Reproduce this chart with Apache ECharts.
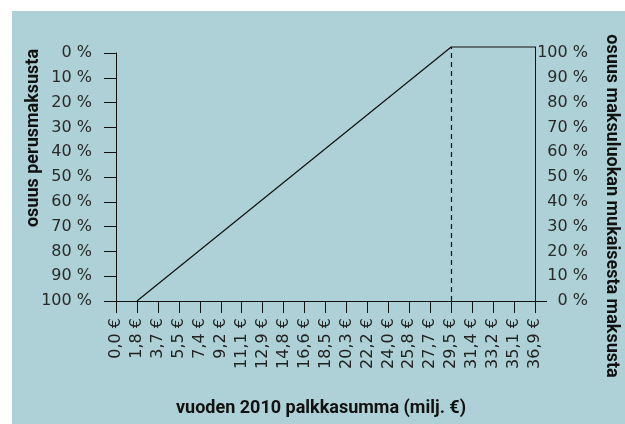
<!DOCTYPE html>
<html>
<head>
<meta charset="utf-8">
<script src="https://cdn.jsdelivr.net/npm/echarts@6/dist/echarts.min.js"></script>
<style>
  html, body { margin: 0; padding: 0; background: #fff; }
  #chart { width: 625px; height: 424px; }
</style>
</head>
<body>
<div id="chart"></div>
<script>
// palkkasumma, milj. €
const categories = ['0,0 €', '1,8 €', '3,7 €', '5,5 €', '7,4 €', '9,2 €', '11,1 €', '12,9 €',
  '14,8 €', '16,6 €', '18,5 €', '20,3 €', '22,2 €', '24,0 €', '25,8 €', '27,7 €',
  '29,5 €', '31,4 €', '33,2 €', '35,1 €', '36,9 €'];
// osuus maksuluokan mukaisesta maksusta (%)
const shareX = ['1,8 €', '29,5 €', '36,9 €'];
const shareY = [0, 102.4, 102.4];
const limitX = '29,5 €';
const percentTicks = [0, 10, 20, 30, 40, 50, 60, 70, 80, 90, 100];

const labelFont = "'DejaVu Sans', sans-serif";
const titleFont = "bold 18px Roboto, 'Liberation Sans', sans-serif";

const chart = echarts.init(document.getElementById('chart'));

const option = {
  backgroundColor: '#ffffff',
  animation: false,
  graphic: [
    { type: 'rect', z: -100, shape: { x: 12, y: 11, width: 613, height: 413 }, style: { fill: '#add1d6' } },
    {
      type: 'text', x: 33, y: 138, rotation: Math.PI / 2,
      style: { text: 'osuus perusmaksusta', font: titleFont, fill: '#111', align: 'center', verticalAlign: 'middle' }
    },
    {
      type: 'text', x: 611, y: 206, rotation: -Math.PI / 2,
      style: { text: 'osuus maksuluokan mukaisesta maksusta', font: titleFont, fill: '#111', align: 'center', verticalAlign: 'middle' }
    },
    {
      type: 'text', x: 321, y: 408,
      style: { text: 'vuoden 2010 palkkasumma (milj. €)', font: titleFont, fill: '#111', align: 'center', verticalAlign: 'middle' }
    }
  ],
  grid: [
    { left: 116, right: 90, top: 53, bottom: 123 },
    { left: 116, right: 90, top: 47, bottom: 123 }
  ],
  xAxis: [
    {
      type: 'category',
      gridIndex: 0,
      data: categories,
      boundaryGap: false,
      axisLine: { onZero: false, lineStyle: { color: '#111', width: 1 } },
      axisTick: { length: 12, lineStyle: { color: '#111' } },
      axisLabel: {
        rotate: 90, margin: 17, interval: 0,
        fontFamily: labelFont, fontSize: 16, color: '#222'
      },
      splitLine: { show: false }
    },
    {
      type: 'category',
      gridIndex: 1,
      data: categories,
      boundaryGap: false,
      show: false
    }
  ],
  yAxis: [
    {
      type: 'value',
      gridIndex: 0,
      position: 'left',
      inverse: true,
      min: 0, max: 100, interval: 10,
      axisLine: { show: true, onZero: false, lineStyle: { color: '#111', width: 1 } },
      axisTick: { show: true, length: 12, lineStyle: { color: '#111' } },
      axisLabel: {
        margin: 24, fontFamily: labelFont, fontSize: 16, color: '#2a2a2a',
        formatter: (v) => v + ' %'
      },
      splitLine: { show: false }
    },
    {
      type: 'value',
      gridIndex: 1,
      position: 'right',
      min: 0, max: 102.4,
      axisLine: { show: true, onZero: false, lineStyle: { color: '#111', width: 1 } },
      axisTick: { show: true, length: 12, customValues: [0], lineStyle: { color: '#111' } },
      axisLabel: {
        customValues: percentTicks,
        margin: 53, align: 'right', fontFamily: labelFont, fontSize: 16, color: '#2a2a2a',
        formatter: (v) => v + ' %'
      },
      splitLine: { show: false }
    }
  ],
  series: [
    {
      type: 'line',
      xAxisIndex: 1,
      yAxisIndex: 1,
      data: shareX.map((x, i) => [x, shareY[i]]),
      symbol: 'none',
      clip: false,
      lineStyle: { color: '#111', width: 1.2 },
      markLine: {
        silent: true,
        symbol: 'none',
        label: { show: false },
        lineStyle: { color: '#111', width: 1.2, type: [5, 4] },
        data: [{ xAxis: limitX }]
      }
    }
  ]
};

chart.setOption(option);

window.addEventListener('resize', function () {
  chart.resize();
});
</script>
</body>
</html>
